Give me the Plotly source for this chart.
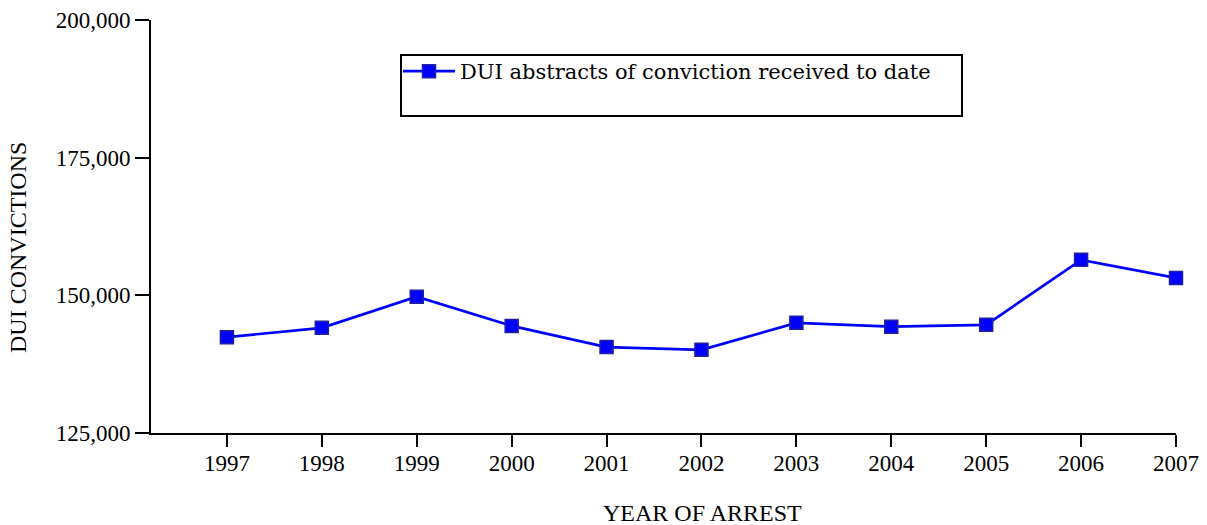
import plotly.graph_objects as go

years = [1997, 1998, 1999, 2000, 2001, 2002, 2003, 2004, 2005, 2006, 2007]
convictions = [142400, 144100, 149750, 144450, 140600, 140100, 145000, 144300, 144650, 156450, 153150]
y_ticks = [125000, 150000, 175000, 200000]
y_tick_labels = ["125,000", "150,000", "175,000", "200,000"]
series_name = "DUI abstracts of conviction received to date"

FONT = "Liberation Serif"
LEG_FONT = "DejaVu Serif"

W, H = 1207, 525
L, R, T, B = 151, 31, 20, 92
pw, ph = W - L - R, H - T - B


def px_x(x):
    return (x - L) / pw


def px_y(y):
    return (H - B - y) / ph


fig = go.Figure()
fig.add_trace(go.Scatter(
    x=years, y=convictions, name=series_name, mode="lines+markers",
    line=dict(color="#0000FF", width=2.7),
    marker=dict(symbol="square", size=13, color="#0000FF",
                line=dict(color="#2020A0", width=1.5)),
    cliponaxis=False,
))

fig.update_layout(
    width=W, height=H,
    margin=dict(l=L, r=R, t=T, b=B, pad=0, autoexpand=False),
    paper_bgcolor="white", plot_bgcolor="white",
    font=dict(family=FONT, size=23, color="black"),
    showlegend=True,
    legend=dict(x=px_x(398), y=px_y(51), xanchor="left", yanchor="top",
                bgcolor="rgba(0,0,0,0)", borderwidth=0, itemwidth=52,
                font=dict(family=LEG_FONT, size=21, color="black")),
    xaxis=dict(range=[1996.2, 2007], tickvals=years, ticktext=[str(y) for y in years],
               showgrid=False, zeroline=False, showline=True, linecolor="black", linewidth=2,
               ticks="outside", ticklen=12, tickwidth=2, tickcolor="black", automargin=False,
               ticklabelstandoff=-4,
               tickfont=dict(family=FONT, size=23)),
    yaxis=dict(range=[125000, 200000], tickvals=y_ticks, ticktext=y_tick_labels,
               showgrid=False, zeroline=False, showline=True, linecolor="black", linewidth=2,
               ticks="outside", ticklen=14, tickwidth=2, tickcolor="black", automargin=False,
               tickfont=dict(family=FONT, size=23)),
    shapes=[dict(type="rect", xref="paper", yref="paper",
                 x0=px_x(401), x1=px_x(962), y0=px_y(116), y1=px_y(55),
                 line=dict(color="black", width=2), fillcolor="rgba(0,0,0,0)")],
    annotations=[
        dict(text="DUI CONVICTIONS", xref="paper", yref="paper", x=px_x(18), y=px_y(248),
             textangle=-90, showarrow=False, font=dict(family=FONT, size=24),
             xanchor="center", yanchor="middle"),
        dict(text="YEAR OF ARREST", xref="paper", yref="paper", x=px_x(702), y=px_y(513),
             showarrow=False, font=dict(family=FONT, size=24),
             xanchor="center", yanchor="middle"),
    ],
)

fig.write_html("out.html", config={"displayModeBar": False},
               post_script="document.body.style.margin='0px';document.body.style.overflow='hidden';")
